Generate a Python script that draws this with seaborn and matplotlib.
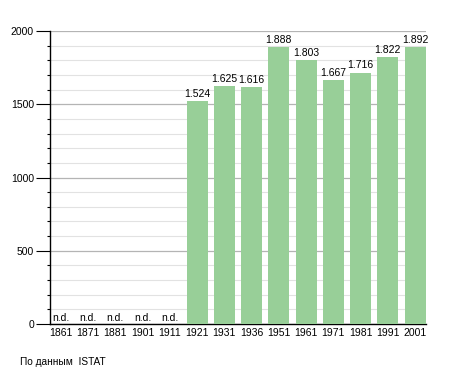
import matplotlib
matplotlib.use("Agg")
import matplotlib.pyplot as plt
import seaborn as sns
import numpy as np
import pandas as pd
from matplotlib.ticker import MultipleLocator

years = ["1861", "1871", "1881", "1901", "1911", "1921", "1931", "1936",
         "1951", "1961", "1971", "1981", "1991", "2001"]
population = [np.nan, np.nan, np.nan, np.nan, np.nan, 1524, 1625, 1616,
              1888, 1803, 1667, 1716, 1822, 1892]
source_text = "По данным  ISTAT"

sns.set_theme(style="white")
plt.rcParams['font.family'] = ['Liberation Sans', 'DejaVu Sans']
plt.rcParams['text.color'] = 'black'
plt.rcParams['xtick.color'] = 'black'
plt.rcParams['ytick.color'] = 'black'

df = pd.DataFrame({"year": years, "pop": population})

fig = plt.figure(figsize=(4.55, 3.73), dpi=100)
ax = fig.add_axes([50/455, (373-324)/373, (426-50)/455, (324-31)/373])

sns.barplot(data=df, x="year", y="pop", color="#98cf98", saturation=1,
            width=0.77, ax=ax, zorder=3, linewidth=0)

ax.set_xlim(-0.4, 13.4)
ax.set_ylim(0, 2000)
ax.yaxis.set_major_locator(MultipleLocator(500))
ax.yaxis.set_minor_locator(MultipleLocator(100))
ax.grid(which="major", axis="y", color="#b4b4b4", linewidth=0.9, zorder=0)
ax.grid(which="minor", axis="y", color="#e2e2e2", linewidth=0.8, zorder=0)
ax.set_axisbelow(True)

for s in ["top", "right"]:
    ax.spines[s].set_visible(False)
for s in ["left", "bottom"]:
    ax.spines[s].set_color("black")
    ax.spines[s].set_linewidth(1.0)

ax.tick_params(axis="y", which="major", left=True, length=10, width=0.8,
               color="black", labelcolor="black", labelsize=7.5, pad=1.5)
ax.tick_params(axis="y", which="minor", left=True, length=2.5, width=0.8,
               color="black")
ax.tick_params(axis="x", bottom=False, length=0, labelsize=7.5,
               labelcolor="black", pad=3)
ax.set_xlabel("")
ax.set_ylabel("")

for i, v in enumerate(population):
    if np.isnan(v):
        ax.text(i, 10, "n.d.", ha="center", va="bottom", fontsize=7.5, color="black")
    else:
        lbl = f"{int(v):,}".replace(",", ".")
        ax.text(i, v + 15, lbl, ha="center", va="bottom", fontsize=7.5, color="black")

fig.text(20/455, 1 - 362/373, source_text, ha="left", va="center",
         fontsize=7.3, color="black")

fig.savefig("out.png", dpi=100)
